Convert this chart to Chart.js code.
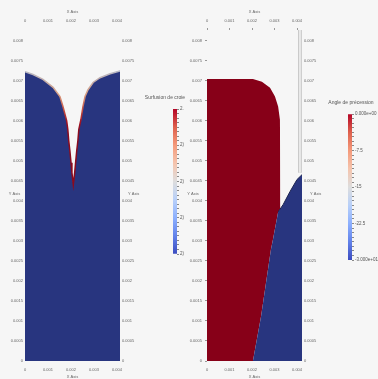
<!DOCTYPE html>
<html><head><meta charset="utf-8">
<script src="https://cdn.jsdelivr.net/npm/chart.js@4"></script>
<style>
html,body{margin:0;padding:0;background:#f6f6f6;}
#wrap{position:relative;width:378px;height:379px;overflow:hidden;}
#wrap canvas{position:absolute;left:0;top:0;}
</style></head><body>
<div id="wrap">
<canvas id="c1" width="378" height="379"></canvas>
<canvas id="c2" width="378" height="379"></canvas>
<canvas id="c3" width="378" height="379"></canvas>
<canvas id="c4" width="378" height="379"></canvas>
</div>
<script>
// ---------- data ----------
const xTickValues = [0, 0.001, 0.002, 0.003, 0.004];
const xTickLabels = ['0', '0.001', '0.002', '0.003', '0.004'];
const yTickValues = [0, 0.0005, 0.001, 0.0015, 0.002, 0.0025, 0.003, 0.0035, 0.004, 0.0045, 0.005, 0.0055, 0.006, 0.0065, 0.007, 0.0075, 0.008];
const yTickLabels = ['0', '0.0005', '0.001', '0.0015', '0.002', '0.0025', '0.003', '0.0035', '0.004', '0.0045', '0.005', '0.0055', '0.006', '0.0065', '0.007', '0.0075', '0.008'];

// left panel: top boundary of the solid (blue) region, with the V-shaped notch
const leftBlueX = [0, 0.00035, 0.00078, 0.00122, 0.00152, 0.00165, 0.00181, 0.00186, 0.0019, 0.00195, 0.002, 0.00204, 0.0021, 0.00216, 0.0022, 0.00225, 0.0023, 0.00234, 0.00243, 0.00252, 0.00261, 0.00274, 0.00296, 0.00326, 0.0037, 0.00413];
const leftBlueY = [0.00722, 0.00715, 0.00703, 0.00683, 0.0066, 0.00635, 0.006, 0.00578, 0.0055, 0.00525, 0.00495, 0.0047, 0.0044, 0.0047, 0.00495, 0.00525, 0.0055, 0.00578, 0.00602, 0.00635, 0.0066, 0.00677, 0.00695, 0.00707, 0.00717, 0.00724];

// right panel: red region top boundary
const rightRedX = [0, 0.00204, 0.00244, 0.0028, 0.00302, 0.00316, 0.00324, 0.00326];
const rightRedY = [0.00704, 0.00704, 0.00697, 0.00682, 0.0066, 0.00635, 0.00602, 0.0038];
// right panel: red / blue interface (lower edge of the red region)
const interfaceX = [0, 0.00204, 0.0024, 0.00284, 0.00293, 0.00316, 0.00326];
const interfaceY = [0, 0, 0.00111, 0.00278, 0.00303, 0.00372, 0.0038];
// right panel: blue region upper boundary (interface then free surface)
const rightBlueX = [0.00204, 0.0024, 0.00284, 0.00293, 0.00316, 0.00338, 0.00369, 0.004, 0.00422];
const rightBlueY = [0, 0.00111, 0.00278, 0.00303, 0.00372, 0.0039, 0.00423, 0.00453, 0.00465];
// right panel: free surface of the blue region (outlined)
const surfaceX = [0.00316, 0.00338, 0.00369, 0.004, 0.00422];
const surfaceY = [0.00372, 0.0039, 0.00423, 0.00453, 0.00465];
// right panel: domain outline segment
const rightEdgeX = [0.00413, 0.00413];
const rightEdgeY = [0.00826, 0.0047];

// colour legends
const bar1Title = 'Surfusion de croie';
const bar1Range = [0, 1];
const bar1TickLabels = ['2)', '2)', '2)', '2)', '2.'];
const bar2Title = 'Angle de précession';
const bar2Range = [-30, 0];
const bar2TickLabels = ['-3.000e+01', '-22.5', '-15', '-7.5', '0.000e+00'];
const coolWarm = ['#3b4cc0', '#6282ea', '#8db0fe', '#b8d0f9', '#dddddd', '#f5c4ad', '#f49a7b', '#de604d', '#b40426'];

// ---------- helpers ----------
Chart.defaults.font.family = '"Liberation Sans", Arial, sans-serif';
Chart.defaults.color = '#666';
const BLUE = '#28357f';
const RED = '#870018';
const NOGRID = {display: false, drawTicks: false};

function pts(xs, ys) { return xs.map((x, i) => ({x: x, y: ys[i]})); }
function fixedTicks(values) { return function (s) { s.ticks = values.map(v => ({value: v})); }; }

const textPlugin = {
  id: 'texts',
  afterDraw(chart, args, opts) {
    const c = chart.ctx;
    (opts.items || []).forEach(t => {
      const p = typeof t.pos === 'function' ? t.pos(chart) : t.pos;
      c.save();
      c.font = (t.size || 4) + 'px "Liberation Sans", Arial, sans-serif';
      c.fillStyle = t.color || '#666';
      c.textAlign = t.align || 'center';
      c.textBaseline = 'middle';
      c.fillText(t.text, p[0], p[1]);
      c.restore();
    });
  }
};
Chart.register(textPlugin);

function plotScales(xMax, yMax, withTicks) {
  const tickGrid = withTicks
    ? {display: true, drawOnChartArea: false, drawTicks: true, tickLength: 2, color: '#999'}
    : NOGRID;
  const font = {size: 4};
  return {
    x: {type: 'linear', position: 'bottom', min: 0, max: xMax,
        afterBuildTicks: fixedTicks(xTickValues), afterFit: s => { s.height = 18; },
        grid: NOGRID, border: {display: false},
        ticks: {font, padding: 6, maxRotation: 0, autoSkip: false, callback: (v, i) => xTickLabels[i]},
        title: {display: true, text: 'X Axis', font, padding: 0}},
    x2: {type: 'linear', position: 'top', min: 0, max: xMax,
        afterBuildTicks: fixedTicks(xTickValues), afterFit: s => { s.height = 30; },
        grid: tickGrid, border: {display: false},
        ticks: {font, padding: withTicks ? 4.6 : 6.6, maxRotation: 0, autoSkip: false, callback: (v, i) => xTickLabels[i]},
        title: {display: true, text: 'X Axis', font, padding: {top: 9.6, bottom: 0}}},
    y: {type: 'linear', position: 'left', min: 0, max: yMax,
        afterBuildTicks: fixedTicks(yTickValues), afterFit: s => { s.width = withTicks ? 22 : 25; },
        grid: tickGrid, border: {display: false},
        ticks: {font, padding: withTicks ? 3 : 2, autoSkip: false, callback: (v, i) => yTickLabels[i]}},
    y2: {type: 'linear', position: 'right', min: 0, max: yMax,
        afterBuildTicks: fixedTicks(yTickValues), afterFit: s => { s.width = 40; },
        grid: NOGRID, border: {display: false},
        ticks: {font, padding: 2, autoSkip: false, callback: (v, i) => yTickLabels[i]}}
  };
}

const yAxisTitles = (dxL, dxR) => [
  {text: 'Y Axis', size: 4, pos: ch => [ch.chartArea.left - dxL, ch.scales.y.getPixelForValue(0.004) - 6.5]},
  {text: 'Y Axis', size: 4, align: 'left', pos: ch => [ch.chartArea.right + dxR, ch.scales.y.getPixelForValue(0.004) - 6.5]}
];

// ---------- left panel ----------
new Chart(document.getElementById('c1'), {
  type: 'line',
  data: {datasets: [{
    data: pts(leftBlueX, leftBlueY), fill: 'origin', backgroundColor: BLUE,
    borderWidth: 1.5, pointRadius: 0, tension: 0,
    borderColor: (ctx) => {
      const ch = ctx.chart;
      if (!ch.chartArea || !ch.scales.y) return '#8a0a1e';
      const ys = ch.scales.y;
      const g = ch.ctx.createLinearGradient(0, ys.getPixelForValue(0.0073), 0, ys.getPixelForValue(0.0057));
      g.addColorStop(0, '#b4bccd');
      g.addColorStop(0.4, '#d8a084');
      g.addColorStop(0.65, '#c85040');
      g.addColorStop(0.85, '#a01020');
      g.addColorStop(1, '#8a0a1e');
      return g;
    }
  }]},
  options: {
    responsive: false, animation: false, events: [],
    layout: {padding: {left: 0, right: 218, top: 0, bottom: 0}},
    scales: plotScales(0.00413, 0.00826, false),
    plugins: {legend: {display: false}, tooltip: {enabled: false},
      texts: {items: yAxisTitles(10.5, 8)}}
  }
});

// ---------- right panel ----------
new Chart(document.getElementById('c3'), {
  type: 'line',
  data: {datasets: [
    {data: pts(rightEdgeX, rightEdgeY), borderColor: '#f2f2f2', borderWidth: 1, pointRadius: 0, fill: false},
    {data: pts(rightEdgeX, rightEdgeY), borderColor: '#a3a3a3', borderWidth: 3, pointRadius: 0, fill: false},
    {data: pts(surfaceX, surfaceY), borderColor: '#1a2250', borderWidth: 1, pointRadius: 0, fill: false, tension: 0},
    {data: pts(rightBlueX, rightBlueY), fill: 'origin', backgroundColor: BLUE, pointRadius: 0, tension: 0,
     borderWidth: 0, borderColor: BLUE},
    {data: pts(rightRedX, rightRedY), fill: 5, backgroundColor: RED, pointRadius: 0, tension: 0,
     borderWidth: 0, borderColor: RED},
    {data: pts(interfaceX, interfaceY), fill: false, pointRadius: 0, tension: 0,
     borderWidth: 0, borderColor: 'rgba(0,0,0,0)'}
  ]},
  options: {
    responsive: false, animation: false, events: [],
    layout: {padding: {left: 185, right: 36, top: 0, bottom: 0}},
    scales: plotScales(0.00422, 0.00826, true),
    plugins: {legend: {display: false}, tooltip: {enabled: false},
      texts: {items: yAxisTitles(14, 8)}}
  }
});

// ---------- colour bars ----------
function colorBar(id, range, labels, title, pad, axisW, titlePos) {
  new Chart(document.getElementById(id), {
    type: 'bar',
    data: {labels: [''], datasets: [{
      data: [range], borderWidth: 0, barPercentage: 1, categoryPercentage: 1,
      backgroundColor: (ctx) => {
        const ch = ctx.chart, a = ch.chartArea;
        if (!a) return coolWarm[4];
        const g = ch.ctx.createLinearGradient(0, a.bottom, 0, a.top);
        coolWarm.forEach((c, i) => g.addColorStop(i / (coolWarm.length - 1), c));
        return g;
      }
    }]},
    options: {
      responsive: false, animation: false, events: [],
      layout: {padding: pad},
      scales: {
        x: {display: false},
        y: {position: 'right', min: range[0], max: range[1],
            afterBuildTicks: s => {
              const t = [];
              for (let k = 0; k <= 32; k++) t.push({value: range[0] + (range[1] - range[0]) * k / 32});
              s.ticks = t;
            },
            afterFit: s => { s.width = axisW; },
            grid: {display: true, drawOnChartArea: false, drawTicks: true, tickLength: 2, color: '#888'},
            border: {display: false},
            ticks: {font: {size: 4.5}, color: '#555', padding: 1, autoSkip: false,
                    callback: (v, i) => (i % 8 === 0 ? labels[i / 8] : '')}}
      },
      plugins: {legend: {display: false}, tooltip: {enabled: false},
        texts: {items: [{text: title, size: 5, color: '#555', pos: titlePos}]}}
    }
  });
}
colorBar('c2', bar1Range, bar1TickLabels, bar1Title, {left: 173, right: 141, top: 109, bottom: 125}, 60, [165, 98]);
colorBar('c4', bar2Range, bar2TickLabels, bar2Title, {left: 348, right: 0, top: 114, bottom: 119}, 26, [351, 103]);
</script>
</body></html>
